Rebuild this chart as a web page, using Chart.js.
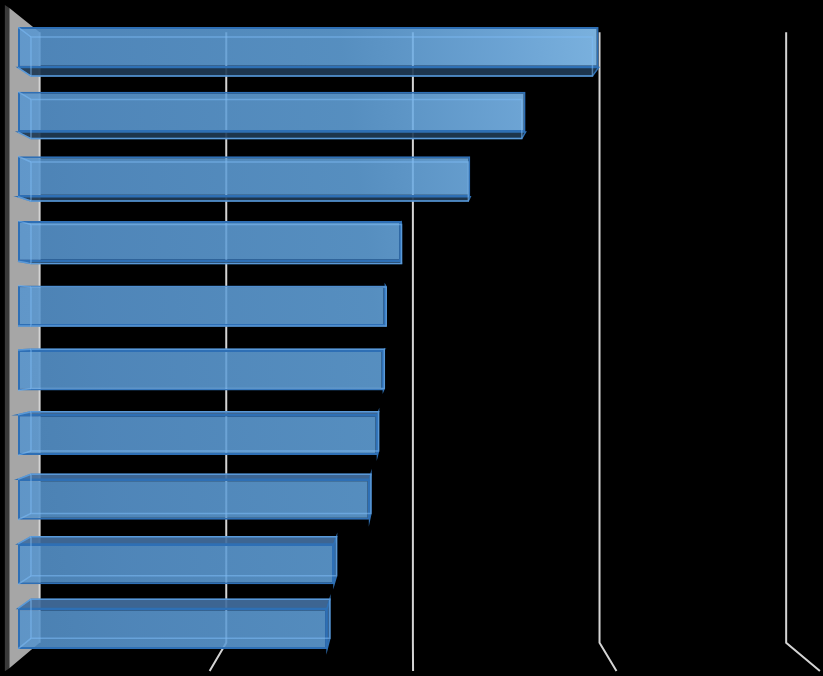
<!DOCTYPE html>
<html>
<head>
<meta charset="utf-8">
<script src="https://cdn.jsdelivr.net/npm/chart.js@4.4.1/dist/chart.umd.min.js"></script>
<style>
  html, body { margin: 0; padding: 0; background: #000; }
  #chart { display: block; }
</style>
</head>
<body>
<canvas id="chart" width="823" height="676"></canvas>
<script>
/* ===== 3D horizontal bar chart ===== */

const categories = ['1', '2', '3', '4', '5', '6', '7', '8', '9', '10'];
const values = [2.94, 2.57, 2.29, 1.94, 1.86, 1.85, 1.82, 1.78, 1.60, 1.565];
const gridTicks = [0, 1, 2, 3, 4];

// perspective: vanishing point and depth factors relative to the front plane
const VP = { x: 411, y: 328 };
const DEPTH = { barBack: 0.967, wall: 0.945, wallFront: 1.022, floor: 1.03 };

function project(px, py, k) {
  return { x: VP.x + (px - VP.x) * k, y: VP.y + (py - VP.y) * k };
}

function poly(ctx, pts) {
  ctx.beginPath();
  ctx.moveTo(pts[0].x, pts[0].y);
  for (let i = 1; i < pts.length; i++) ctx.lineTo(pts[i].x, pts[i].y);
  ctx.closePath();
}

function barBox(bar) {
  const p = bar.getProps(['x', 'y', 'base', 'height'], true);
  const l = Math.min(p.base, p.x), r = Math.max(p.base, p.x);
  const t = p.y - p.height / 2, b = p.y + p.height / 2;
  const k = DEPTH.barBack;
  return {
    l, r, t, b,
    btl: project(l, t, k), btr: project(r, t, k),
    bbl: project(l, b, k), bbr: project(r, b, k),
  };
}

let frontGradient = null;
function frontFill(chart) {
  const a = chart.chartArea;
  if (!a) return '#4f86bf';
  if (frontGradient) return frontGradient;
  const g = chart.ctx.createLinearGradient(a.left, a.bottom, a.right, a.bottom - 100);
  g.addColorStop(0, 'rgba(85,146,202,0.88)');
  g.addColorStop(0.15, 'rgba(90,152,210,0.88)');
  g.addColorStop(0.5, 'rgba(98,162,218,0.88)');
  g.addColorStop(0.7, 'rgba(122,185,240,0.88)');
  g.addColorStop(0.85, 'rgba(143,205,255,0.88)');
  g.addColorStop(1, 'rgba(150,212,255,0.88)');
  frontGradient = g;
  return g;
}

const scene3d = {
  id: 'scene3d',
  beforeDatasetsDraw(chart) {
    const { ctx, chartArea: a, scales: { x } } = chart;
    ctx.save();

    // left wall
    const wf1 = project(a.left, a.top, DEPTH.wallFront);
    const wf2 = project(a.left, a.bottom, DEPTH.wallFront);
    const wb1 = project(a.left, a.top, DEPTH.wall);
    const wb2 = project(a.left, a.bottom, DEPTH.wall);
    poly(ctx, [
      { x: wf1.x - 4.5, y: wf1.y - 3 }, wf1, wf2, { x: wf2.x - 4.5, y: wf2.y + 3 }
    ]);
    ctx.fillStyle = '#3a3a3a';
    ctx.fill();
    poly(ctx, [wf1, wb1, wb2, wf2]);
    ctx.fillStyle = '#a6a6a6';
    ctx.fill();

    // grid lines on the back wall and floor
    ctx.strokeStyle = '#d4d4d4';
    ctx.lineWidth = 2;
    x.ticks.forEach(t => {
      const px = x.getPixelForValue(t.value);
      const top = project(px, a.top, DEPTH.wall);
      const bot = project(px, a.bottom, DEPTH.wall);
      const fl = project(px, a.bottom, DEPTH.floor);
      ctx.beginPath();
      ctx.moveTo(top.x, top.y);
      ctx.lineTo(bot.x, bot.y);
      if (t.value !== 0) ctx.lineTo(fl.x, fl.y);
      ctx.stroke();
    });

    // visible depth faces of each bar
    ctx.lineWidth = 1.5;
    ctx.strokeStyle = '#2f70b4';
    chart.getDatasetMeta(0).data.forEach(bar => {
      const f = barBox(bar);
      if (f.bbl.y > f.b) {
        poly(ctx, [{ x: f.l, y: f.b }, { x: f.r, y: f.b }, f.bbr, f.bbl]);
        ctx.fillStyle = 'rgba(32,58,84,0.92)';
        ctx.fill();
        ctx.stroke();
      }
      if (f.btl.y < f.t) {
        poly(ctx, [{ x: f.l, y: f.t }, { x: f.r, y: f.t }, f.btr, f.btl]);
        ctx.fillStyle = 'rgba(66,110,158,0.92)';
        ctx.fill();
        ctx.stroke();
      }
      if (f.btr.x > f.r) {
        poly(ctx, [{ x: f.r, y: f.t }, f.btr, f.bbr, { x: f.r, y: f.b }]);
        ctx.fillStyle = 'rgba(60,108,162,0.92)';
        ctx.fill();
        ctx.stroke();
      }
    });
    ctx.restore();
  },
  afterDatasetsDraw(chart) {
    const { ctx } = chart;
    ctx.save();
    ctx.strokeStyle = 'rgba(125,188,245,0.55)';
    ctx.lineWidth = 1.5;
    chart.getDatasetMeta(0).data.forEach(bar => {
      const f = barBox(bar);
      poly(ctx, [f.btl, f.btr, f.bbr, f.bbl]);
      ctx.stroke();
      ctx.beginPath();
      ctx.moveTo(f.l, f.t); ctx.lineTo(f.btl.x, f.btl.y);
      ctx.moveTo(f.l, f.b); ctx.lineTo(f.bbl.x, f.bbl.y);
      ctx.stroke();
    });
    ctx.restore();
  }
};

new Chart(document.getElementById('chart'), {
  type: 'bar',
  data: {
    labels: categories,
    datasets: [{
      data: values,
      backgroundColor: ctx => frontFill(ctx.chart),
      borderColor: '#2e6fb5',
      borderWidth: 2,
      borderSkipped: false,
      barPercentage: 0.626,
      categoryPercentage: 1,
    }]
  },
  options: {
    indexAxis: 'y',
    responsive: false,
    animation: false,
    layout: { padding: { left: 18, right: 15, top: 15, bottom: 15 } },
    plugins: {
      legend: { display: false },
      tooltip: { enabled: false }
    },
    scales: {
      x: {
        type: 'linear',
        min: 0,
        max: 4,
        display: false,
        afterBuildTicks: s => { s.ticks = gridTicks.map(v => ({ value: v })); }
      },
      y: {
        display: false
      }
    }
  },
  plugins: [scene3d]
});
</script>
</body>
</html>
